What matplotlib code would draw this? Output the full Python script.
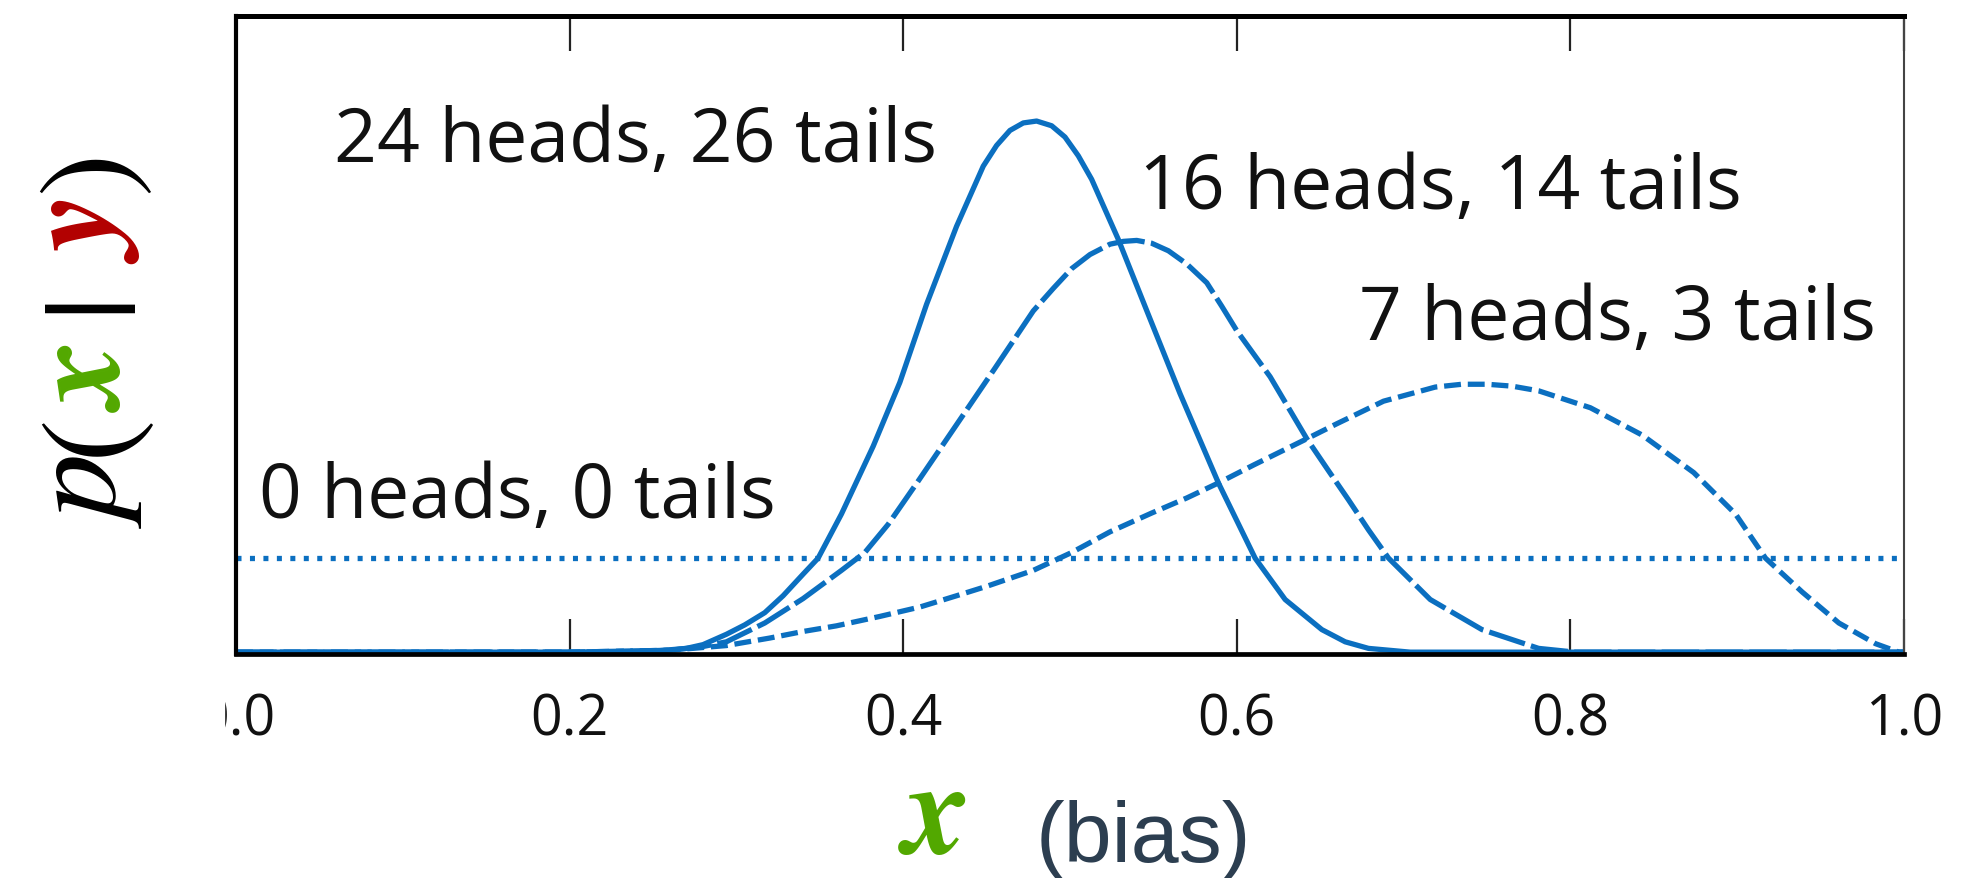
import matplotlib.pyplot as plt
from matplotlib.patches import Rectangle

# x axis
x_ticks = [0.0, 0.2, 0.4, 0.6, 0.8, 1.0]
tick_labels = ['0.0', '0.2', '0.4', '0.6', '0.8', '1.0']

# 0 heads, 0 tails (flat prior)
x_0_0 = [0.0, 1.0]
p_0_0 = [1.0, 1.0]

# 24 heads, 26 tails
x_24_26 = [0.0, 0.2, 0.25, 0.27, 0.28, 0.294, 0.305, 0.317, 0.328, 0.340, 0.349, 0.363,
           0.382, 0.398, 0.414, 0.432, 0.448, 0.456, 0.464, 0.472, 0.480, 0.489, 0.497,
           0.505, 0.513, 0.529, 0.547, 0.566, 0.589, 0.611, 0.629, 0.651, 0.665, 0.679,
           0.704, 1.0]
p_24_26 = [0.0, 0.0, 0.01, 0.04, 0.08, 0.19, 0.29, 0.42, 0.60, 0.83, 1.0, 1.47,
           2.19, 2.87, 3.70, 4.53, 5.17, 5.39, 5.55, 5.63, 5.65, 5.60, 5.48,
           5.28, 5.03, 4.39, 3.59, 2.75, 1.80, 1.0, 0.56, 0.24, 0.11, 0.04,
           0.0, 0.0]

# 16 heads, 14 tails
x_16_14 = [0.0, 0.2, 0.26, 0.28, 0.294, 0.317, 0.340, 0.363, 0.377, 0.391, 0.409, 0.432,
           0.455, 0.478, 0.490, 0.501, 0.512, 0.524, 0.532, 0.540, 0.549, 0.559, 0.570,
           0.582, 0.591, 0.600, 0.611, 0.620, 0.631, 0.642, 0.655, 0.667, 0.679, 0.691,
           0.716, 0.747, 0.781, 0.803, 1.0]
p_16_14 = [0.0, 0.0, 0.02, 0.06, 0.11, 0.31, 0.57, 0.87, 1.06, 1.36, 1.82, 2.42,
           3.02, 3.63, 3.87, 4.08, 4.23, 4.34, 4.37, 4.38, 4.35, 4.27, 4.13,
           3.93, 3.68, 3.42, 3.15, 2.93, 2.60, 2.27, 1.93, 1.62, 1.30, 1.0,
           0.56, 0.24, 0.04, 0.0, 0.0]

# 7 heads, 3 tails
x_7_3 = [0.0, 0.2, 0.26, 0.294, 0.320, 0.340, 0.360, 0.386, 0.410, 0.432, 0.450, 0.478,
         0.501, 0.524, 0.549, 0.570, 0.589, 0.610, 0.642, 0.660, 0.688, 0.719, 0.735,
         0.750, 0.765, 0.781, 0.812, 0.843, 0.874, 0.899, 0.917, 0.939, 0.961, 0.983,
         0.997, 1.0]
p_7_3 = [0.0, 0.0, 0.02, 0.07, 0.15, 0.22, 0.28, 0.38, 0.48, 0.60, 0.70, 0.87,
         1.06, 1.28, 1.48, 1.64, 1.80, 1.99, 2.27, 2.43, 2.67, 2.82, 2.85,
         2.85, 2.83, 2.78, 2.60, 2.31, 1.91, 1.47, 1.0, 0.64, 0.31, 0.09,
         0.0, 0.0]

blue = '#0b6fc0'
green = '#52a800'
red = '#b20000'

fig = plt.figure(figsize=(19.62, 8.79), dpi=100)
ax = fig.add_axes([0.1203, 0.2548, 0.8501, 0.7258])

ax.plot(x_0_0, p_0_0, color=blue, lw=3.8, linestyle=(0, (0.95, 1.6)))
ax.plot(x_24_26, p_24_26, color=blue, lw=3.8, solid_joinstyle='round')
ax.plot(x_16_14, p_16_14, color=blue, lw=3.8, linestyle=(0, (7.1, 1.2)))
ax.plot(x_7_3, p_7_3, color=blue, lw=3.8, linestyle=(0, (3.2, 1.3)))

ax.set_xlim(0, 1)
ax.set_ylim(-0.02, 6.767)
ax.set_xticks(x_ticks)
ax.set_xticklabels(tick_labels, fontfamily='Open Sans', fontsize=40, color='#111')
ax.set_yticks([])
ax.tick_params(axis='x', direction='in', top=True, length=25, width=1.6,
               color='#222', pad=27)

ax.spines['top'].set_linewidth(3.6)
ax.spines['bottom'].set_linewidth(3.4)
ax.spines['left'].set_linewidth(3)
ax.spines['right'].set_linewidth(1.5)
ax.spines['right'].set_color('#444')

ann = dict(fontfamily='Open Sans', fontsize=54, color='#111', va='baseline')
ax.text(0.0590, 5.22, '24 heads, 26 tails', ha='left', **ann)
ax.text(0.903, 4.72, '16 heads, 14 tails', ha='right', **ann)
ax.text(0.673, 3.33, '7 heads, 3 tails', ha='left', **ann)
ax.text(0.0140, 1.44, '0 heads, 0 tails', ha='left', **ann)

# y label p(x | y), built piece by piece for the colours
ylab = [(')', 0.8055, 'black', 'normal', 'normal'),
        ('y', 0.7327, red, 'italic', 'bold'),
        ('|', 0.6587, 'black', 'normal', 'normal'),
        ('x', 0.5688, green, 'italic', 'bold'),
        ('(', 0.5063, 'black', 'normal', 'normal'),
        ('p', 0.4369, 'black', 'italic', 'normal')]
for s, yy, c, st, wt in ylab:
    fig.text(0.0637, yy, s, rotation=90, rotation_mode='anchor', ha='center',
             va='baseline', color=c, fontfamily='STIXGeneral', style=st,
             weight=wt, fontsize=94)

# x label
fig.text(0.4772, 0.0296, 'x', ha='center', va='baseline', color=green,
         fontfamily='STIXGeneral', style='italic', weight='bold', fontsize=94)
fig.text(0.5280, 0.0194, '(bias)', ha='left', va='baseline', color='#2c3e50',
         fontfamily='Liberation Sans', fontsize=62)

# the left tick label is cut off in the original
fig.patches.append(Rectangle((0, 0.12), 224 / 1962, 0.1, transform=fig.transFigure,
                             color='white', zorder=10))

fig.savefig('out.png', dpi=100)
